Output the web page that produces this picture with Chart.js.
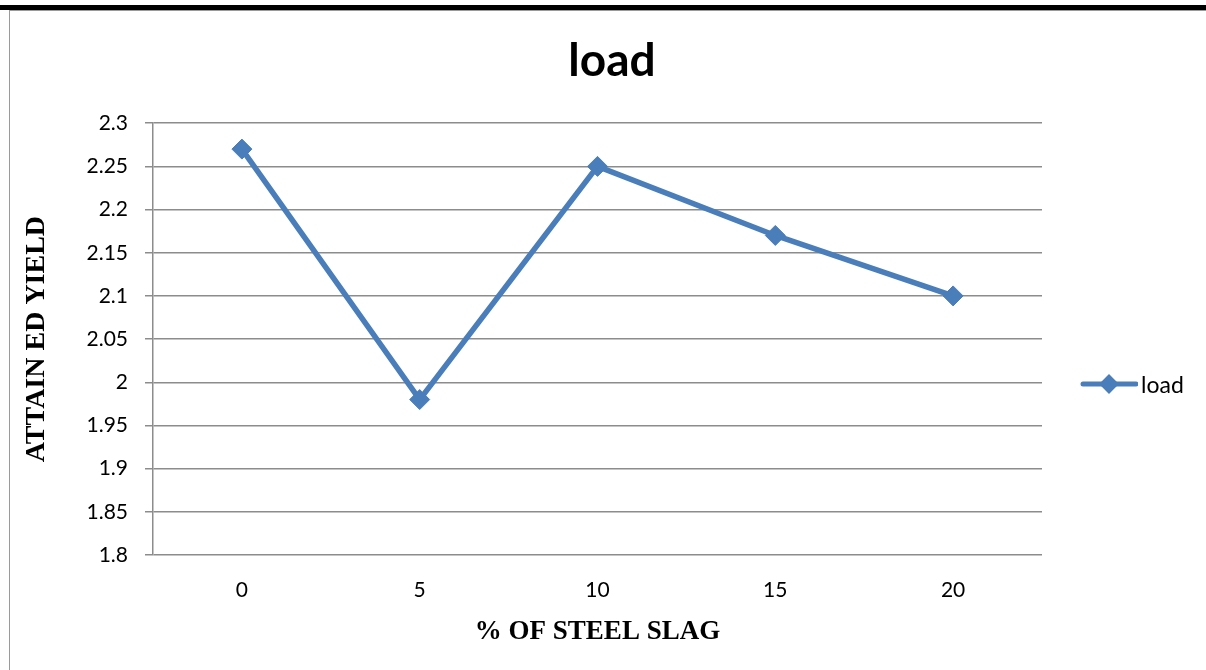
<!DOCTYPE html>
<html>
<head>
<meta charset="utf-8">
<script src="https://cdn.jsdelivr.net/npm/chart.js@4"></script>
<style>
  html, body { margin: 0; padding: 0; background: #fff; }
  body { width: 1206px; height: 670px; position: relative; overflow: hidden; }
  #bar { position: absolute; left: 0; top: 5px; width: 1206px; height: 5px; background: #000; }
  #frameTop { position: absolute; left: 9px; top: 10px; width: 1197px; height: 1px; background: #9a9a9a; }
  #frameLeft { position: absolute; left: 9px; top: 10px; width: 1px; height: 660px; background: #9a9a9a; }
  #wrap { position: absolute; left: 0; top: 0; width: 1206px; height: 670px; }
  #legend { position: absolute; left: 1080px; top: 369px; font: 23px Lato, "Open Sans", sans-serif; color: #000; display: flex; align-items: center; }
  #legend span { margin-left: 3px; }
</style>
</head>
<body>
<div id="bar"></div>
<div id="frameTop"></div>
<div id="frameLeft"></div>
<div id="wrap"><canvas id="chart"></canvas></div>
<div id="legend">
  <svg width="58" height="30"><line x1="3" y1="15" x2="56" y2="15" stroke="#4a7ebb" stroke-width="5" stroke-linecap="round"/><rect x="22" y="8" width="14" height="14" fill="#4a7ebb" transform="rotate(45 29 15)"/></svg>
  <span id="legendText"></span>
</div>
<script>
// chart data
var categories = ['0', '5', '10', '15', '20'];
var loadValues = [2.27, 1.98, 2.25, 2.17, 2.10];
var seriesName = 'load';
var yMin = 1.8, yMax = 2.3, yStep = 0.05;

document.getElementById('legendText').textContent = seriesName;

var blue = '#4a7ebb';
var gridGray = '#8c8c8c';
var sans = 'Lato, "Open Sans", sans-serif';
var serif = '"Liberation Serif", "DejaVu Serif", serif';

var ctx = document.getElementById('chart').getContext('2d');
var chart = new Chart(ctx, {
    type: 'line',
    data: {
        labels: categories,
        datasets: [{
            label: seriesName,
            data: loadValues,
            borderColor: blue,
            backgroundColor: blue,
            borderWidth: 5.5,
            pointStyle: 'rectRot',
            pointRadius: 10,
            pointHoverRadius: 10,
            pointBorderWidth: 1,
            tension: 0
        }]
    },
    options: {
        responsive: true,
        maintainAspectRatio: false,
        animation: false,
        layout: { padding: { left: 18, right: 0, top: 34, bottom: 0 } },
        plugins: {
            legend: { display: false },
            tooltip: { enabled: false },
            title: {
                display: true,
                text: seriesName,
                color: '#000',
                font: { family: sans, size: 46, weight: 'bold' },
                padding: { top: 0, bottom: 34 }
            }
        },
        scales: {
            x: {
                offset: true,
                grid: { display: false },
                border: { display: false },
                ticks: {
                    color: '#000',
                    padding: 15,
                    font: { family: sans, size: 21 }
                },
                title: {
                    display: true,
                    text: '% OF STEEL SLAG',
                    color: '#000',
                    font: { family: serif, size: 27, weight: 'bold' },
                    padding: { top: 0, bottom: 22 }
                },
                afterFit: function (scale) { scale.height = 115; }
            },
            y: {
                min: yMin,
                max: yMax,
                grid: { color: gridGray, lineWidth: 1.5, tickLength: 8 },
                border: { color: gridGray, width: 1.5 },
                ticks: {
                    stepSize: yStep,
                    color: '#000',
                    padding: 17,
                    font: { family: sans, size: 21 },
                    callback: function (v) { return String(parseFloat(v.toFixed(2))); }
                },
                title: {
                    display: true,
                    text: 'ATTAIN ED YIELD',
                    color: '#000',
                    font: { family: serif, size: 28, weight: 'bold' },
                    padding: { top: 2, bottom: 0 }
                },
                afterFit: function (scale) { scale.width = 135; }
            },
            // empty right-hand space where the legend sits
            legendSpace: {
                type: 'linear',
                position: 'right',
                grid: { display: false },
                border: { display: false },
                ticks: { display: false },
                afterFit: function (scale) { scale.width = 164; }
            }
        }
    }
});
</script>
</body>
</html>
